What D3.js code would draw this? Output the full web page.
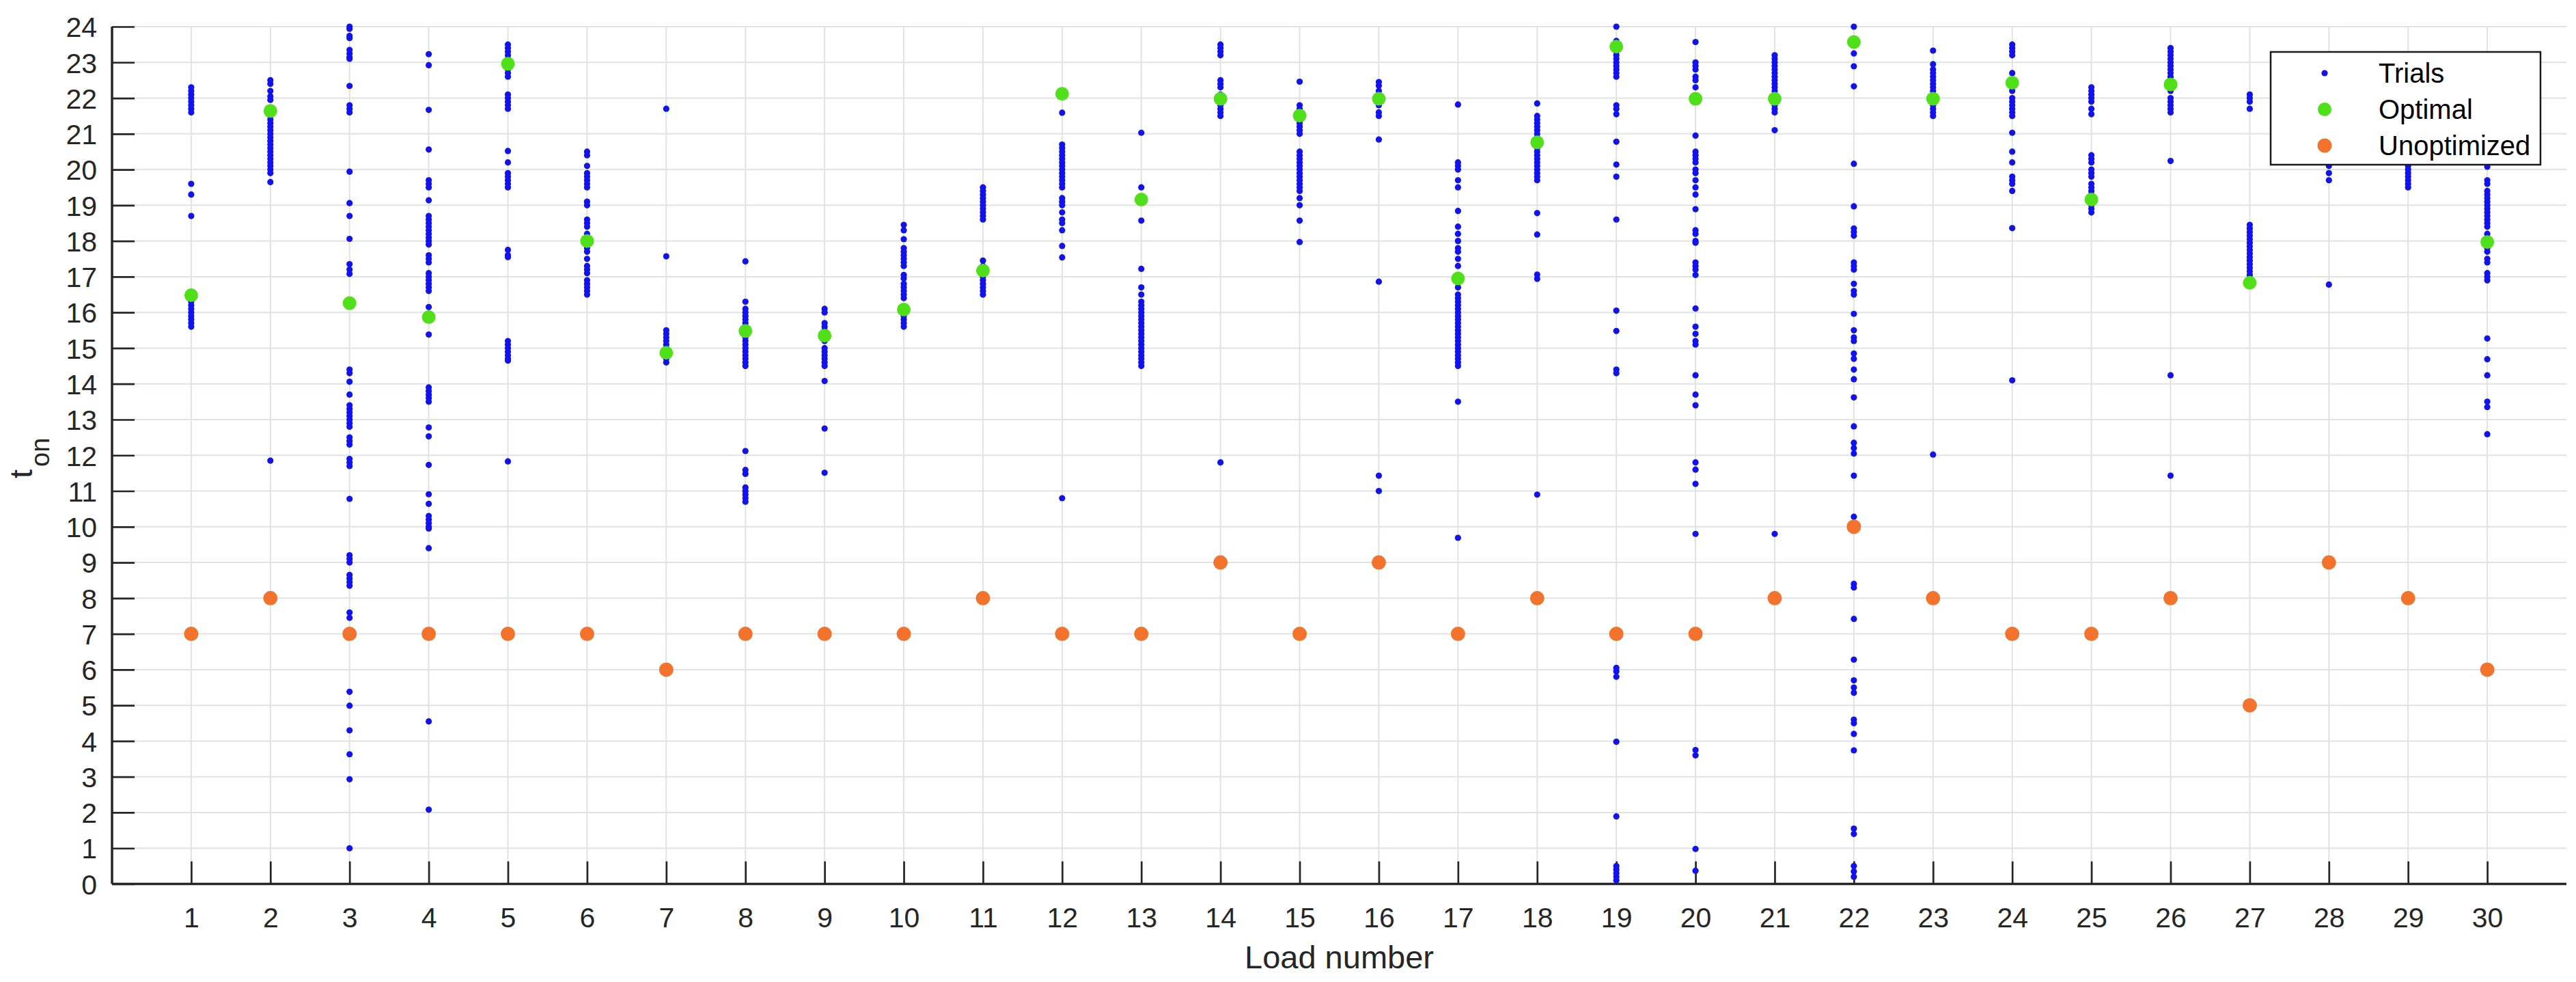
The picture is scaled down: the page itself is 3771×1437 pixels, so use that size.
<!DOCTYPE html>
<html lang="en">
  <head>
    <meta charset="UTF-8" />
    <title>t_on per load number</title>
    <script src="https://d3js.org/d3.v7.min.js"></script>
    <style>
      body {
        margin: 0;
        background: #fff;
      }
      svg {
        display: block;
        font-family: "Liberation Sans", Arial, sans-serif;
      }
      .grid line {
        stroke: #dfe3e3;
        stroke-width: 2px;
      }
      .tick-label {
        fill: #262626;
        font-size: 41px;
      }
    </style>
  </head>
  <body>
    <svg id="chart" width="3771" height="1437"></svg>

    <script>
      // ----------------------------------------------------------------
      // DATA
      // ----------------------------------------------------------------
      const loads = d3.range(1, 31);
      const yTicks = d3.range(0, 25);

      // trial values of t_on, one list per load number
      const trials = [
        [22.3, 22.2, 22.1, 22.0, 21.9, 21.8, 21.7, 21.6, 19.6, 19.3, 18.7, 16.3, 16.2, 16.1, 16.0, 15.9, 15.8, 15.7, 15.6],
        [22.5, 22.4, 22.2, 22.05, 21.95, 21.5, 21.4, 21.3, 21.2, 21.1, 21.0, 20.9, 20.8, 20.7, 20.6, 20.5, 20.4, 20.3, 20.2, 20.1, 20.0, 19.9, 19.65, 11.85],
        [24.0, 23.94, 23.74, 23.68, 23.35, 23.25, 23.15, 23.1, 22.34, 21.8, 21.7, 21.6, 19.94, 19.06, 18.7, 18.06, 17.35, 17.2, 17.08, 14.4, 14.3, 14.06, 13.7, 13.4, 13.3, 13.2, 13.1, 13.0, 12.9, 12.8, 12.5, 12.4, 12.3, 11.9, 11.8, 11.7, 10.78, 9.2, 9.1, 9.0, 8.65, 8.55, 8.45, 8.35, 7.6, 7.45, 5.38, 4.99, 4.3, 3.63, 2.93, 1.0],
        [23.23, 22.92, 21.67, 20.56, 19.7, 19.6, 19.5, 19.14, 18.7, 18.6, 18.5, 18.4, 18.3, 18.2, 18.1, 18.0, 17.9, 17.6, 17.5, 17.4, 17.1, 17.0, 16.9, 16.8, 16.7, 16.6, 16.15, 15.38, 13.9, 13.8, 13.7, 13.6, 13.5, 12.78, 12.53, 11.73, 10.91, 10.64, 10.3, 10.2, 10.1, 10.0, 9.95, 9.4, 4.55, 2.08],
        [23.5, 23.4, 23.3, 23.2, 23.1, 22.9, 22.8, 22.7, 22.6, 22.1, 22.0, 21.9, 21.8, 21.7, 20.52, 20.2, 19.9, 19.8, 19.7, 19.6, 19.5, 17.75, 17.6, 17.55, 15.2, 15.1, 15.0, 14.9, 14.8, 14.7, 14.65, 11.83],
        [20.5, 20.4, 20.1, 19.9, 19.8, 19.7, 19.6, 19.5, 19.1, 19.0, 18.6, 18.5, 18.4, 18.2, 17.8, 17.7, 17.5, 17.3, 17.2, 17.1, 16.9, 16.8, 16.7, 16.6, 16.5],
        [21.7, 17.57, 15.5, 15.4, 15.3, 15.2, 15.1, 15.0, 14.9, 14.8, 14.7, 14.6],
        [17.43, 16.3, 16.1, 16.0, 15.9, 15.8, 15.7, 15.6, 15.4, 15.3, 15.2, 15.1, 15.0, 14.9, 14.8, 14.7, 14.6, 14.5, 12.12, 11.59, 11.48, 11.1, 11.0, 10.9, 10.8, 10.7],
        [16.1, 16.0, 15.7, 15.6, 15.5, 15.2, 15.0, 14.9, 14.8, 14.7, 14.6, 14.5, 14.08, 12.75, 11.51],
        [18.45, 18.3, 18.05, 17.8, 17.7, 17.6, 17.5, 17.4, 17.3, 17.05, 16.95, 16.8, 16.7, 16.6, 16.5, 16.4, 15.9, 15.8, 15.7, 15.6],
        [19.5, 19.4, 19.3, 19.2, 19.1, 19.0, 18.9, 18.8, 18.7, 18.6, 17.45, 17.3, 17.2, 17.0, 16.9, 16.8, 16.7, 16.6, 16.5],
        [21.59, 20.7, 20.6, 20.5, 20.4, 20.3, 20.2, 20.1, 20.0, 19.9, 19.8, 19.7, 19.6, 19.5, 19.2, 19.1, 19.0, 18.8, 18.6, 18.5, 18.3, 17.86, 17.54, 10.8],
        [21.03, 19.5, 18.57, 17.22, 16.7, 16.5, 16.3, 16.2, 16.1, 16.0, 15.9, 15.8, 15.7, 15.6, 15.5, 15.4, 15.3, 15.2, 15.1, 15.0, 14.9, 14.8, 14.7, 14.6, 14.5],
        [23.5, 23.4, 23.3, 23.2, 22.5, 22.4, 22.3, 22.1, 21.9, 21.8, 21.7, 21.6, 21.5, 11.8],
        [22.46, 21.8, 21.7, 21.6, 21.4, 21.3, 21.2, 21.1, 21.0, 20.5, 20.4, 20.3, 20.2, 20.1, 20.0, 19.9, 19.8, 19.7, 19.6, 19.5, 19.4, 19.2, 19.0, 18.57, 17.97],
        [22.45, 22.35, 22.2, 22.0, 21.9, 21.8, 21.6, 21.5, 20.84, 16.86, 11.43, 11.0],
        [21.82, 20.2, 20.1, 20.0, 19.7, 19.5, 18.84, 18.4, 18.2, 18.0, 17.8, 17.7, 17.5, 17.3, 16.7, 16.5, 16.4, 16.3, 16.2, 16.1, 16.0, 15.9, 15.8, 15.7, 15.6, 15.5, 15.4, 15.3, 15.2, 15.1, 15.0, 14.9, 14.8, 14.7, 14.6, 14.5, 13.5, 9.69],
        [21.85, 21.5, 21.4, 21.3, 21.2, 21.1, 21.0, 20.9, 20.8, 20.6, 20.5, 20.4, 20.3, 20.2, 20.1, 20.0, 19.9, 19.8, 19.7, 18.78, 18.18, 17.06, 16.94, 10.9],
        [24.0, 23.6, 23.5, 23.3, 23.2, 23.1, 23.0, 22.9, 22.8, 22.7, 22.6, 21.8, 21.7, 21.55, 20.78, 20.14, 19.8, 18.6, 16.05, 15.48, 14.4, 14.3, 6.05, 5.95, 5.8, 3.98, 1.89, 0.5, 0.4, 0.3, 0.2, 0.1],
        [23.57, 23.0, 22.9, 22.8, 22.6, 22.5, 22.3, 20.95, 20.5, 20.4, 20.3, 20.2, 20.0, 19.9, 19.7, 19.5, 19.3, 18.89, 18.3, 18.2, 18.0, 17.95, 17.4, 17.3, 17.2, 17.05, 16.11, 15.6, 15.4, 15.2, 15.1, 14.24, 13.7, 13.4, 11.8, 11.6, 11.2, 9.8, 3.75, 3.6, 0.98, 0.37],
        [23.2, 23.1, 23.0, 22.9, 22.8, 22.7, 22.6, 22.5, 22.4, 22.3, 22.2, 22.1, 21.9, 21.8, 21.7, 21.6, 21.1, 9.8],
        [24.0, 23.25, 22.89, 22.33, 20.16, 18.97, 18.35, 18.25, 18.15, 17.4, 17.3, 17.2, 16.8, 16.6, 16.5, 15.96, 15.5, 15.3, 15.2, 14.85, 14.7, 14.4, 14.13, 13.62, 12.81, 12.35, 12.2, 12.05, 11.43, 10.28, 8.4, 8.3, 7.42, 6.28, 5.7, 5.5, 5.35, 4.6, 4.5, 4.2, 3.74, 1.55, 1.4, 0.5, 0.35, 0.2],
        [23.33, 22.95, 22.8, 22.7, 22.6, 22.5, 22.4, 22.3, 22.2, 22.1, 21.9, 21.8, 21.7, 21.6, 21.5, 12.02],
        [23.5, 23.4, 23.3, 23.2, 22.7, 22.5, 22.3, 22.2, 22.0, 21.9, 21.8, 21.7, 21.6, 21.5, 21.03, 20.5, 20.2, 19.8, 19.7, 19.6, 19.4, 18.36, 14.1],
        [22.3, 22.2, 22.1, 22.0, 21.9, 21.7, 21.55, 20.4, 20.3, 20.2, 20.0, 19.9, 19.8, 19.6, 19.5, 19.4, 19.3, 19.1, 19.0, 18.9, 18.8],
        [23.4, 23.3, 23.2, 23.1, 23.0, 22.9, 22.8, 22.7, 22.6, 22.5, 22.4, 22.3, 22.2, 22.0, 21.9, 21.8, 21.7, 21.6, 20.24, 14.24, 11.43],
        [22.1, 22.0, 21.9, 21.7, 18.45, 18.35, 18.25, 18.15, 18.05, 17.95, 17.85, 17.75, 17.65, 17.55, 17.45, 17.35, 17.25, 17.15, 17.05, 16.95, 16.85, 16.75],
        [20.1, 19.9, 19.7, 16.78],
        [20.1, 20.0, 19.9, 19.8, 19.7, 19.6, 19.5],
        [20.08, 19.7, 19.6, 19.4, 19.3, 19.2, 19.1, 19.0, 18.9, 18.8, 18.7, 18.6, 18.5, 18.4, 18.2, 18.1, 17.8, 17.7, 17.5, 17.4, 17.1, 17.0, 16.9, 15.27, 14.69, 14.24, 13.5, 13.35, 12.59],
      ];

      // optimal t_on (28 and 29 sit behind the legend, not readable)
      const optimal = [16.48, 21.64, 16.26, 15.87, 22.96, 18.0, 14.87, 15.48, 15.35, 16.08,
        17.17, 22.12, 19.16, 21.98, 21.51, 21.98, 16.95, 20.76, 23.44, 21.98,
        21.98, 23.57, 21.98, 22.43, 19.16, 22.38, 16.83, null, null, 17.97];

      // unoptimized t_on
      const unoptimized = [7, 8, 7, 7, 7, 7, 6, 7, 7, 7, 8, 7, 7, 9, 7, 9, 7, 8, 7, 7,
        8, 10, 8, 7, 7, 8, 5, 9, 8, 6];

      const legendLabels = ["Trials", "Optimal", "Unoptimized"];

      // ----------------------------------------------------------------
      // LAYOUT
      // ----------------------------------------------------------------
      const svg = d3.select("#chart");
      const margin = { left: 164, right: 14, top: 39, bottom: 143.5 };
      const width = +svg.attr("width");
      const height = +svg.attr("height");

      const x = d3.scaleLinear().domain([0, 31]).range([margin.left, width - margin.right]);
      const y = d3.scaleLinear().domain([0, 24]).range([height - margin.bottom, margin.top]);

      const colors = { trial: "#1212ee", optimal: "#4fe01a", unopt: "#f3722c" };
      const axisColor = "#262626";

      // ----------------------------------------------------------------
      // GRID
      // ----------------------------------------------------------------
      const grid = svg.append("g").attr("class", "grid");
      grid.selectAll("line.h")
        .data(yTicks.filter((d) => d > 0))
        .join("line")
        .attr("class", "h")
        .attr("x1", x(0)).attr("x2", x(31))
        .attr("y1", (d) => y(d)).attr("y2", (d) => y(d));
      grid.selectAll("line.v")
        .data(loads)
        .join("line")
        .attr("class", "v")
        .attr("x1", (d) => x(d)).attr("x2", (d) => x(d))
        .attr("y1", y(0)).attr("y2", y(24));

      // ----------------------------------------------------------------
      // AXES (MATLAB style: ticks pointing inward)
      // ----------------------------------------------------------------
      const xAxis = d3.axisBottom(x).tickValues(loads).tickSize(-33).tickPadding(34).tickFormat(d3.format("d"));
      const yAxis = d3.axisLeft(y).tickValues(yTicks).tickSize(-33).tickPadding(22).tickFormat(d3.format("d"));

      const gx = svg.append("g").attr("transform", `translate(0,${y(0)})`).call(xAxis);
      const gy = svg.append("g").attr("transform", `translate(${x(0)},0)`).call(yAxis);

      [gx, gy].forEach((g) => {
        g.select(".domain").remove();
        g.selectAll(".tick line").attr("stroke", axisColor).attr("stroke-width", 2.7);
        g.selectAll(".tick text")
          .attr("class", "tick-label")
          .attr("font-family", null)
          .attr("font-size", null);
      });
      gy.selectAll(".tick text").attr("dy", "0.36em");

      // axis lines, left and bottom only
      svg.append("line")
        .attr("x1", x(0)).attr("x2", x(31))
        .attr("y1", y(0)).attr("y2", y(0))
        .attr("stroke", axisColor).attr("stroke-width", 3.5);
      svg.append("line")
        .attr("x1", x(0)).attr("x2", x(0))
        .attr("y1", y(0)).attr("y2", y(24))
        .attr("stroke", axisColor).attr("stroke-width", 3.5);

      // axis titles
      svg.append("text")
        .attr("x", (x(0) + x(31)) / 2)
        .attr("y", 1417)
        .attr("text-anchor", "middle")
        .attr("fill", axisColor)
        .attr("font-size", 47)
        .text("Load number");

      const yTitle = svg.append("text")
        .attr("transform", "translate(47,700) rotate(-90)")
        .attr("fill", axisColor);
      yTitle.append("tspan").attr("font-size", 47).text("t");
      yTitle.append("tspan").attr("font-size", 38).attr("dx", 4).attr("dy", 25).text("on");

      // ----------------------------------------------------------------
      // MARKERS
      // ----------------------------------------------------------------
      const trialPoints = trials.flatMap((vals, i) => vals.map((v) => ({ load: loads[i], v })));

      svg.append("g")
        .selectAll("circle")
        .data(trialPoints)
        .join("circle")
        .attr("cx", (d) => x(d.load))
        .attr("cy", (d) => y(d.v))
        .attr("r", 4.6)
        .attr("fill", colors.trial);

      svg.append("g")
        .selectAll("circle")
        .data(loads.map((l, i) => ({ load: l, v: optimal[i] })).filter((d) => d.v != null))
        .join("circle")
        .attr("cx", (d) => x(d.load))
        .attr("cy", (d) => y(d.v))
        .attr("r", 10)
        .attr("fill", colors.optimal);

      svg.append("g")
        .selectAll("circle")
        .data(loads.map((l, i) => ({ load: l, v: unoptimized[i] })))
        .join("circle")
        .attr("cx", (d) => x(d.load))
        .attr("cy", (d) => y(d.v))
        .attr("r", 10.5)
        .attr("fill", colors.unopt);

      // ----------------------------------------------------------------
      // LEGEND
      // ----------------------------------------------------------------
      const legend = svg.append("g").attr("transform", "translate(3324,76)");
      legend.append("rect")
        .attr("width", 395).attr("height", 165)
        .attr("fill", "#fff")
        .attr("stroke", "#1a1a1a")
        .attr("stroke-width", 2.5);

      const legendMarks = [
        { r: 4.6, fill: colors.trial },
        { r: 10, fill: colors.optimal },
        { r: 10.5, fill: colors.unopt },
      ];
      const rows = legend.selectAll("g.row")
        .data(legendLabels)
        .join("g")
        .attr("class", "row")
        .attr("transform", (d, i) => `translate(0,${31 + i * 53})`);
      rows.append("circle")
        .attr("cx", 79)
        .attr("r", (d, i) => legendMarks[i].r)
        .attr("fill", (d, i) => legendMarks[i].fill);
      rows.append("text")
        .attr("x", 158)
        .attr("dy", "0.36em")
        .attr("font-size", 40)
        .attr("fill", "#000")
        .text((d) => d);
    </script>
  </body>
</html>
